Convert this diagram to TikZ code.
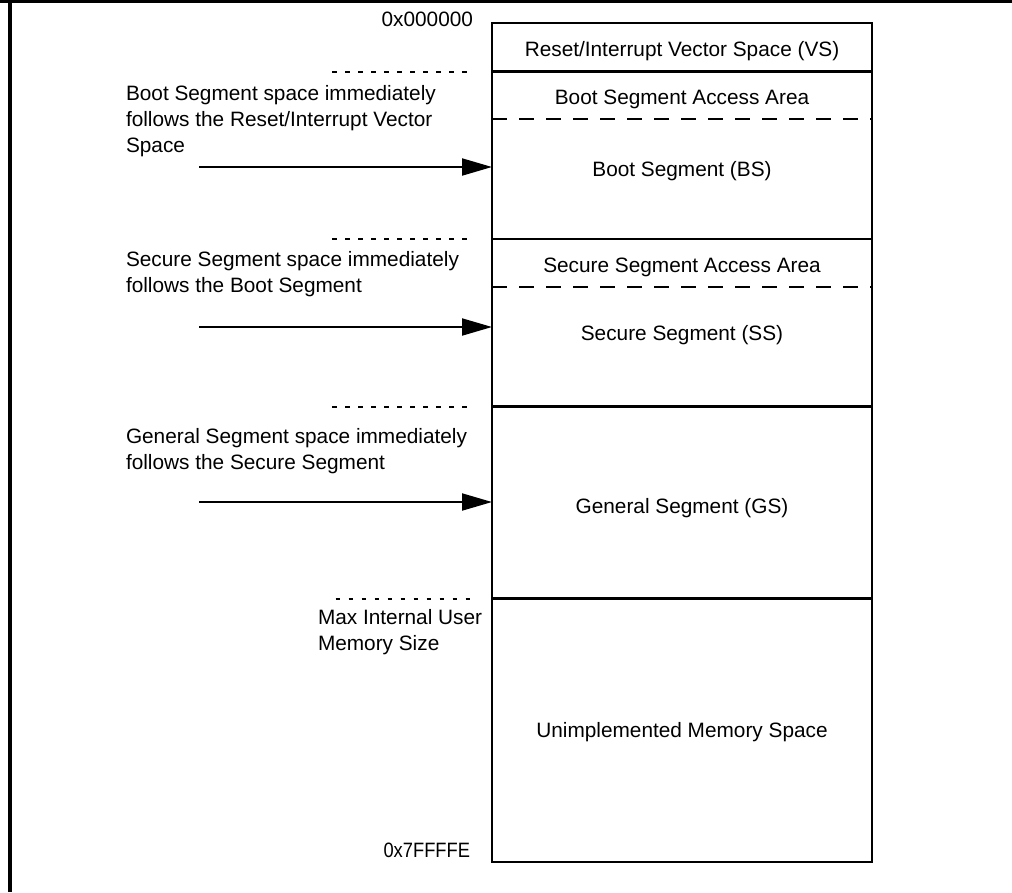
\documentclass[tikz,border=0pt]{standalone}
\usepackage{fontspec}
\setmainfont{Liberation Sans}
\newfontfamily\narrowaddr[FakeStretch=0.88]{Liberation Sans}
\usetikzlibrary{arrows.meta}

\begin{document}
\begin{tikzpicture}[x=1pt,y=-1pt,
  every node/.style={inner sep=0pt, outer sep=0pt, font=\fontsize{20.8}{26}\selectfont},
  frameline/.style={line width=3.2pt},
  segbox/.style={draw, line width=2.2pt, minimum width=380pt, anchor=north west},
  accessline/.style={line width=2pt, dash pattern=on 15pt off 12pt},
  boundary/.style={line width=2pt, dash pattern=on 4.5pt off 8.5pt},
  pointer/.style={line width=2pt, -{Triangle[length=30pt,width=17pt]}},
  seglabel/.style={anchor=base},
  note/.style={anchor=base west, align=left},
  addr/.style={anchor=base east}]

\useasboundingbox (0,0) rectangle (1012,892);
\fill[white] (0,0) rectangle (1012,892);

% outer frame
\draw[frameline] (0,1.6) -- (1012,1.6);
\draw[frameline] (10,0) -- (10,892);

% memory map segments
\node[segbox, minimum height=48.5pt]  (vs)   at (492,23)    {};
\node[segbox, minimum height=167.5pt] (boot) at (492,71.5)  {};
\node[segbox, minimum height=167.5pt] (sec)  at (492,239)   {};
\node[segbox, minimum height=192pt]   (gen)  at (492,406.5) {};
\node[segbox, minimum height=263.5pt] (unim) at (492,598.5) {};

% access area dividers
\coordinate (bdiv) at (492,119);
\coordinate (sdiv) at (492,287);
\draw[accessline] (bdiv) -- (bdiv -| boot.east);
\draw[accessline] (sdiv) -- (sdiv -| sec.east);

% segment labels
\node[seglabel] (lvs)  at (682,56.5)  {Reset/Interrupt Vector Space (VS)};
\node[seglabel] (lbaa) at (682,104)   {Boot Segment Access Area};
\node[seglabel] (lbs)  at (682,176)   {Boot Segment (BS)};
\node[seglabel] (lsaa) at (682,272)   {Secure Segment Access Area};
\node[seglabel] (lss)  at (682,340)   {Secure Segment (SS)};
\node[seglabel] (lgs)  at (682,513)   {General Segment (GS)};
\node[seglabel] (lus)  at (682,737)   {Unimplemented Memory Space};

% addresses
\node[addr] (a0) at (473,26.5) {0x000000};
\node[addr] (a1) at (470,857)  {\narrowaddr 0x7FFFFE};

% segment boundaries
\coordinate (d1) at (332,72);
\coordinate (d2) at (332,239);
\coordinate (d3) at (332,406.5);
\coordinate (d4) at (335.5,598.5);
\draw[boundary] (d1) -- ++(139,0);
\draw[boundary] (d2) -- ++(139,0);
\draw[boundary] (d3) -- ++(139,0);
\draw[boundary] (d4) -- ++(139,0);

% notes (anchored at the baseline of their last line)
\node[note] (n1) at (126,152.7) {Boot Segment space immediately\\follows the Reset/Interrupt Vector\\Space};
\node[note] (n2) at (126,292)   {Secure Segment space immediately\\follows the Boot Segment};
\node[note] (n3) at (126,469)   {General Segment space immediately\\follows the Secure Segment};
\node[note] (n4) at (318,650)   {Max Internal User\\Memory Size};

% pointers into the map
\coordinate (p1) at (199,167);
\coordinate (p2) at (199,327);
\coordinate (p3) at (199,502);
\draw[pointer] (p1) -- (p1 -| boot.west);
\draw[pointer] (p2) -- (p2 -| sec.west);
\draw[pointer] (p3) -- (p3 -| gen.west);

\end{tikzpicture}
\end{document}
